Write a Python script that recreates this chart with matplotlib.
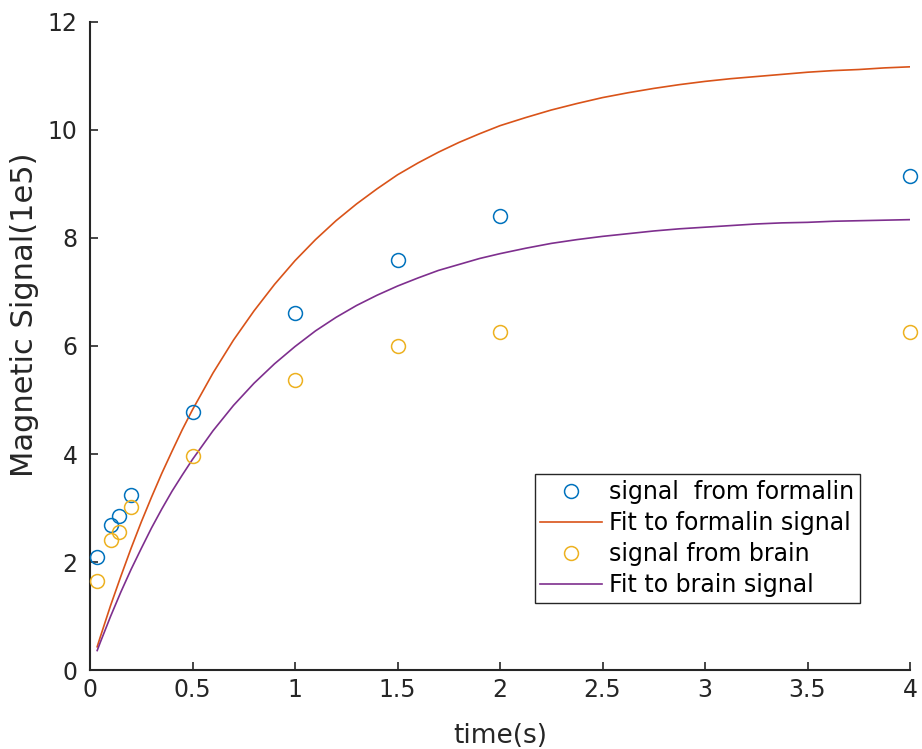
import matplotlib
matplotlib.use("Agg")
import matplotlib.pyplot as plt

plt.rcParams["font.family"] = ["DejaVu Sans"]

# measured signal (1e5 units)
t_meas = [0.035, 0.1, 0.14, 0.2, 0.5, 1.0, 1.5, 2.0, 4.0]
formalin_meas = [2.10, 2.69, 2.85, 3.24, 4.78, 6.61, 7.59, 8.41, 9.15]
brain_meas = [1.65, 2.41, 2.56, 3.02, 3.96, 5.37, 6.00, 6.26, 6.26]

# fitted recovery curves, sampled along t
t_fit = [0.035, 0.05, 0.1, 0.15, 0.2, 0.25, 0.3, 0.35, 0.4, 0.45, 0.5,
         0.6, 0.7, 0.8, 0.9, 1.0, 1.1, 1.2, 1.3, 1.4, 1.5, 1.6, 1.7,
         1.8, 1.9, 2.0, 2.125, 2.25, 2.375, 2.5, 2.625, 2.75, 2.875,
         3.0, 3.125, 3.25, 3.375, 3.5, 3.625, 3.75, 3.875, 4.0]
formalin_fit = [0.43, 0.61, 1.19, 1.73, 2.25, 2.74, 3.20, 3.64, 4.05,
                4.45, 4.82, 5.50, 6.11, 6.65, 7.14, 7.58, 7.97, 8.32,
                8.63, 8.91, 9.17, 9.39, 9.59, 9.77, 9.93, 10.08, 10.23,
                10.37, 10.49, 10.60, 10.69, 10.77, 10.84, 10.90, 10.95,
                10.99, 11.03, 11.07, 11.10, 11.12, 11.15, 11.17]
brain_fit = [0.36, 0.51, 0.99, 1.44, 1.86, 2.25, 2.63, 2.98, 3.31,
             3.61, 3.90, 4.43, 4.90, 5.31, 5.67, 5.99, 6.28, 6.53,
             6.75, 6.94, 7.11, 7.26, 7.40, 7.51, 7.62, 7.71, 7.81,
             7.90, 7.97, 8.03, 8.08, 8.13, 8.17, 8.20, 8.23, 8.26,
             8.28, 8.29, 8.31, 8.32, 8.33, 8.34]

BLUE = "#0072BD"
ORANGE = "#D95319"
YELLOW = "#EDB120"
PURPLE = "#7E2F8E"
AX_COLOR = "#262626"

fig = plt.figure(figsize=(9.22, 7.49), dpi=100)
ax = fig.add_axes([90 / 922, 79 / 749, 820 / 922, 648 / 749])

ax.plot(t_meas, formalin_meas, "o", mfc="none", mec=BLUE, ms=10, mew=1.1,
        label="signal  from formalin", clip_on=False, zorder=3)
ax.plot(t_fit, formalin_fit, "-", color=ORANGE, lw=1.2,
        label="Fit to formalin signal")
ax.plot(t_meas, brain_meas, "o", mfc="none", mec=YELLOW, ms=10, mew=1.1,
        label="signal from brain", clip_on=False, zorder=3)
ax.plot(t_fit, brain_fit, "-", color=PURPLE, lw=1.2,
        label="Fit to brain signal")

ax.set_xlim(0, 4)
ax.set_ylim(0, 12)
ax.set_xticks([0, 0.5, 1, 1.5, 2, 2.5, 3, 3.5, 4])
ax.set_xticklabels(["0", "0.5", "1", "1.5", "2", "2.5", "3", "3.5", "4"])
ax.set_yticks([0, 2, 4, 6, 8, 10, 12])

for side in ("top", "right"):
    ax.spines[side].set_visible(False)
for side in ("left", "bottom"):
    ax.spines[side].set_color(AX_COLOR)
    ax.spines[side].set_linewidth(1.5)
ax.tick_params(direction="in", length=6, width=1.2, colors=AX_COLOR,
               labelsize=17)
ax.tick_params(axis="x", pad=6)
ax.tick_params(axis="y", pad=9)

ax.set_xlabel("time(s)", fontsize=19, color=AX_COLOR, labelpad=15)
ax.set_ylabel("Magnetic Signal(1e5)", fontsize=22, color=AX_COLOR,
              labelpad=6)
ax.yaxis.set_label_coords(-0.062, 0.548)

leg = ax.legend(loc="lower right", bbox_to_anchor=(0.939, 0.103),
                borderaxespad=0, fontsize=17, frameon=True, fancybox=False,
                framealpha=1, edgecolor=AX_COLOR, handlelength=2.6,
                handletextpad=0.3, borderpad=0.25, labelspacing=0.3)
leg.get_frame().set_linewidth(1.0)

fig.savefig("out.png", dpi=100)
